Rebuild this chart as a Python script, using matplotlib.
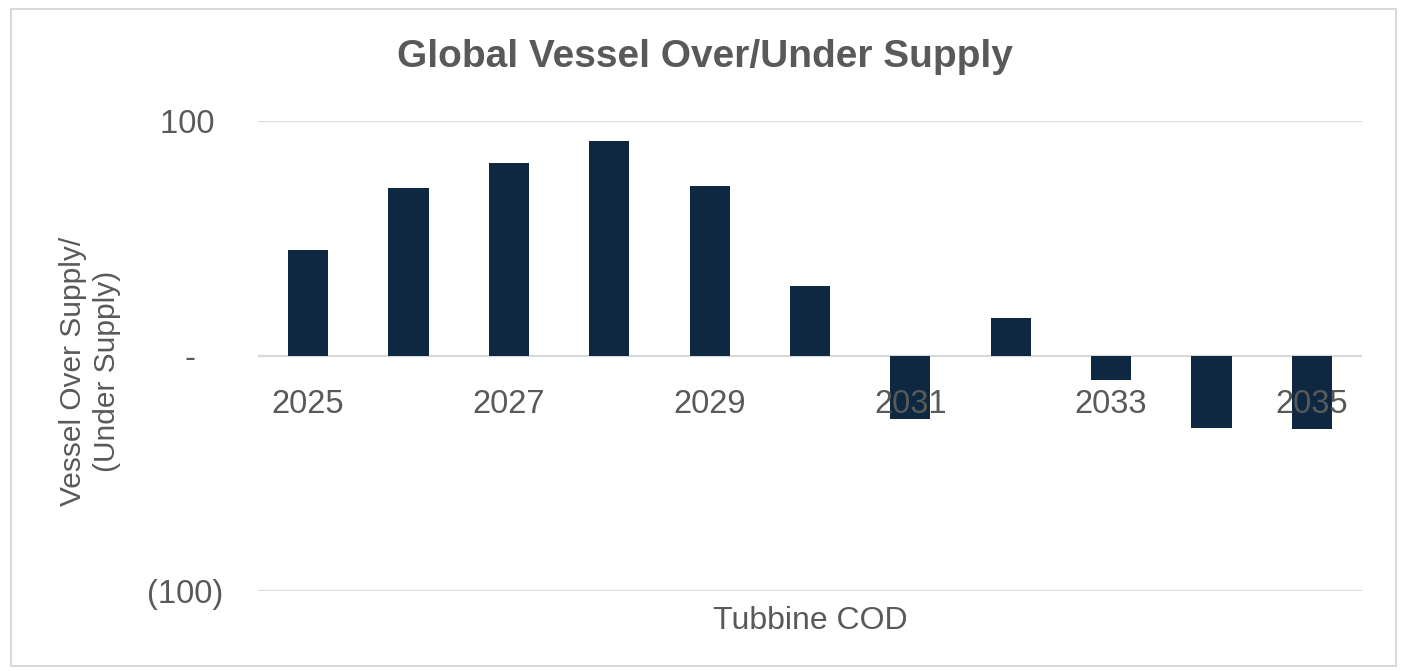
import numpy as np
import matplotlib.pyplot as plt
from matplotlib.patches import Rectangle

# Données
years = [2025, 2026, 2027, 2028, 2029, 2030, 2031, 2032, 2033, 2034, 2035]
supply = [45, 71.5, 82, 91.5, 72.5, 30, -27, 16, -10, -30.5, -31]
yticks = [-100, 0, 100]
ytick_labels = ["(100)", "-   ", "100 "]

navy = "#0e2841"
grey = "#595959"
plt.rcParams["font.family"] = ["Liberation Sans", "DejaVu Sans"]

fig = plt.figure(figsize=(14.09, 6.71), dpi=100)
ax = fig.add_axes([258 / 1409, 1 - 591 / 671, 1104 / 1409, 470 / 671])

x = np.arange(len(years))
ax.bar(x, supply, width=0.4, color=navy, zorder=1)
for yv in yticks:
    ax.axhline(yv, color="#d9d9d9", lw=1.6, zorder=0.5)

ax.set_xlim(-0.5, len(years) - 0.5)
ax.set_ylim(-100, 100)
ax.set_xticks(x[::2])
ax.set_xticklabels([str(y) for y in years[::2]])
ax.set_yticks(yticks)
ax.set_yticklabels(ytick_labels)

for s in ax.spines.values():
    s.set_visible(False)
ax.spines["bottom"].set_position(("data", 0))
ax.xaxis.set_zorder(3)
ax.tick_params(axis="x", length=0, pad=24, labelsize=23.5, labelcolor=grey)
ax.tick_params(axis="y", length=0, pad=25, labelsize=23.5, labelcolor=grey)

ax.set_xlabel("Tubbine COD", fontsize=23, color=grey, va="top")
ax.xaxis.set_label_coords(0.5, -0.032)
ax.set_ylabel("Vessel Over Supply/\n(Under Supply)", fontsize=21.5, color=grey,
              linespacing=1.3)
ax.yaxis.set_label_coords(-0.124, 0.468)

fig.text(0.5, 1 - 57 / 671, "Global Vessel Over/Under Supply", ha="center",
         va="center", fontsize=28, fontweight="bold", color=grey)

# Cadre du graphique
fig.patches.append(Rectangle((11 / 1409, 1 - 666 / 671), 1385 / 1409, 657 / 671,
                             transform=fig.transFigure, fill=False,
                             edgecolor="#d9d9d9", lw=1.5))

fig.savefig("out.png", dpi=100)
